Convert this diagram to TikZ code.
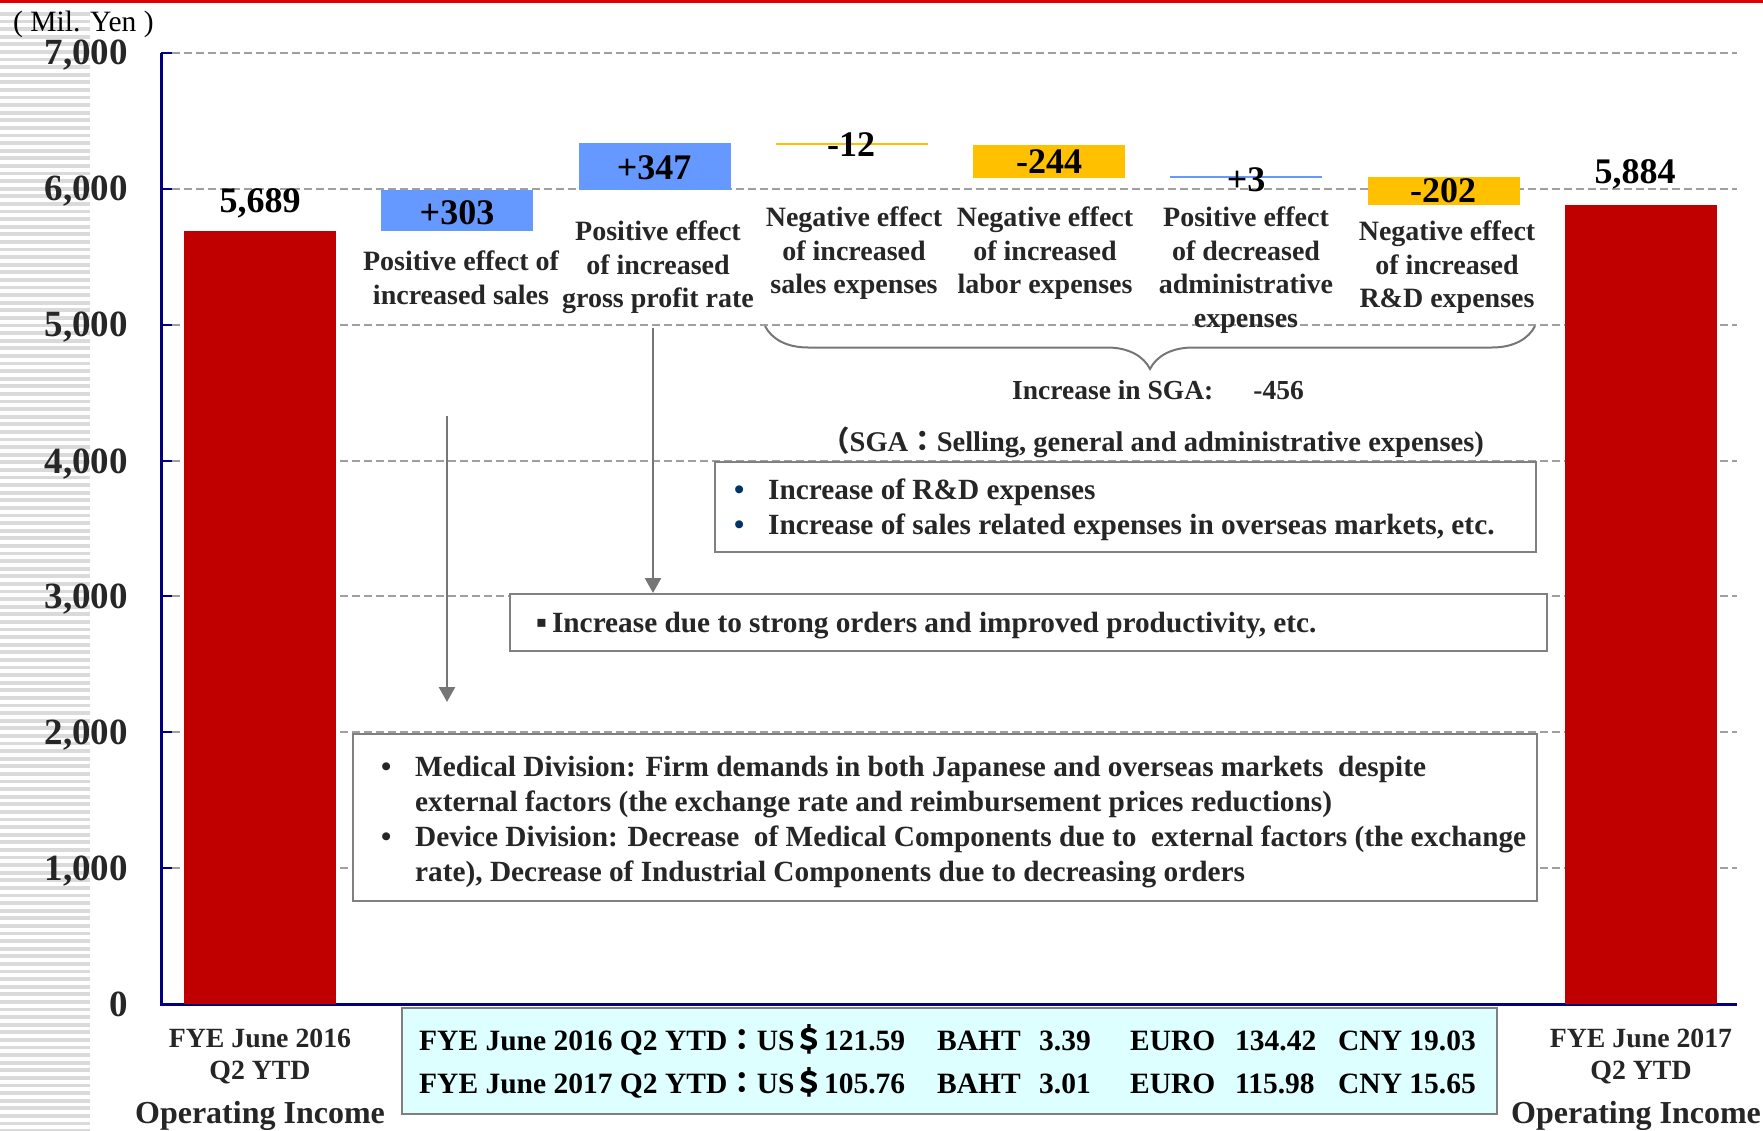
\documentclass[tikz,border=0pt]{standalone}
\usepackage{fontspec}
\setmainfont{Liberation Serif}
\newfontfamily\cjk{Noto Sans CJK JP}
\newfontfamily\dejavu{DejaVu Sans}
\usetikzlibrary{arrows.meta,decorations.pathreplacing}
\definecolor{barred}{RGB}{192,0,0}
\definecolor{barblue}{RGB}{102,153,255}
\definecolor{bargold}{RGB}{255,192,0}
\definecolor{axisnavy}{RGB}{0,0,128}
\definecolor{gridgray}{RGB}{160,160,160}
\definecolor{boxgray}{RGB}{128,128,128}
\definecolor{arrowgray}{RGB}{118,118,118}
\definecolor{stripegray}{RGB}{218,218,218}
\definecolor{topred}{RGB}{224,0,0}
\definecolor{txt}{RGB}{38,38,38}
\definecolor{bulletnavy}{RGB}{0,51,102}
\definecolor{ratefill}{RGB}{221,255,255}
\newcommand\setfs[2]{\fontsize{#1pt}{#2pt}\selectfont}
\begin{document}
\begin{tikzpicture}[x=1pt,y=-1pt,
  bar/.style={inner sep=0pt, outer sep=0pt, minimum width=152pt, anchor=north west},
  valuelabel/.style={font=\bfseries\setfs{36}{40}, text=black, inner sep=0pt, anchor=base},
  catlabel/.style={font=\bfseries\setfs{28}{33.5}, text=txt, align=center, inner sep=0pt, anchor=north},
  bottomlabel/.style={font=\bfseries\setfs{27.8}{32}, text=txt, align=center, inner sep=0pt, anchor=north},
  oplabel/.style={font=\bfseries\setfs{32}{36}, text=txt, inner sep=0pt, anchor=base},
  axislabel/.style={font=\bfseries\setfs{37}{40}, text=txt, inner sep=0pt, anchor=base east},
  gridrule/.style={gridgray, line width=2pt, dash pattern=on 8pt off 4pt},
  infobox/.style={draw=boxgray, line width=2pt, fill=white, inner sep=0pt, anchor=north west},
  boxtext/.style={font=\bfseries\setfs{29.3}{35}, text=txt, align=left, inner sep=0pt},
  ratetext/.style={font=\bfseries\setfs{29.5}{34}, text=black, inner sep=0pt, anchor=base west},
  pointer/.style={arrowgray, line width=2.5pt, -{Triangle[width=16pt,length=15pt]}},
  bracestyle/.style={arrowgray, line width=2pt, decorate, decoration={brace, mirror, amplitude=43pt}},
]
\useasboundingbox (0,0) rectangle (1763,1131);

% left stripes and top rule
\foreach \k in {0,...,147} \fill[stripegray] (0,{12+7.6*\k}) rectangle (90,{15.8+7.6*\k});
\fill[topred] (0,0) rectangle (1763,3);

% grid
\foreach \y in {53,189,325,461,596,732,868} \draw[gridrule] (172,\y) -- (1737,\y);

% axes
\draw[axisnavy, line width=3pt] (161,53) -- (161,1004) -- (1737,1004);
\foreach \y in {53,189,325,461,596,732,868} \draw[axisnavy, line width=2.5pt] (161,\y) -- (172,\y);

% axis labels
\node[font=\setfs{29.5}{34}, text=black, inner sep=0pt, anchor=base west] (unit) at (13,32) {( Mil. Yen )};
\foreach \y/\t in {53/{7,000},189/{6,000},325/{5,000},461/{4,000},596/{3,000},732/{2,000},868/{1,000},1004/{0}}
  \node[axislabel] (ylab\y) at (128,\y+12) {\t};

% bars
\node[bar, fill=barred,  minimum height=772.6pt] (b0) at (184,231.4) {};
\node[bar, fill=barblue, minimum height=41.1pt]  (b1) at (381,190.3) {};
\node[bar, fill=barblue, minimum height=47.1pt]  (b2) at (579,143.2) {};
\node[bar, fill=bargold, minimum height=2pt]     (b3) at (776,143.2) {};
\node[bar, fill=bargold, minimum height=33.1pt]  (b4) at (973,144.8) {};
\node[bar, fill=barblue, minimum height=1.5pt]   (b5) at (1170,176.5) {};
\node[bar, fill=bargold, minimum height=27.5pt]  (b6) at (1368,177.5) {};
\node[bar, fill=barred,  minimum height=799pt]   (b7) at (1565,205) {};

% value labels
\node[valuelabel] (v0) at (260,213) {5,689};
\node[valuelabel] (v1) at (457,225) {+303};
\node[valuelabel] (v2) at (654,180) {+347};
\node[valuelabel] (v3) at (851,157) {-12};
\node[valuelabel] (v4) at (1049,174) {-244};
\node[valuelabel] (v5) at (1246,192) {+3};
\node[valuelabel] (v6) at (1443,203) {-202};
\node[valuelabel] (v7) at (1635,184) {5,884};

% category labels
\node[catlabel] (c1) at (461,251) {Positive effect of\\increased sales};
\node[catlabel] (c2) at (658,221) {Positive effect\\of increased\\gross profit rate};
\node[catlabel] (c3) at (854,207) {Negative effect\\of increased\\sales expenses};
\node[catlabel] (c4) at (1045,207) {Negative effect\\of increased\\labor expenses};
\node[catlabel] (c5) at (1246,207) {Positive effect\\of decreased\\administrative\\expenses};
\node[catlabel] (c6) at (1447,221) {Negative effect\\of increased\\R\&D expenses};

% brace and SGA texts
\coordinate (brL) at (765,326);
\coordinate (brR) at (1535,326);
\draw[bracestyle] (brL) -- (brR);
\node[font=\bfseries\setfs{27.5}{32}, text=txt, inner sep=0pt, anchor=base west] (sga) at (1012,399) {Increase in SGA:\hspace{40pt}-456};
\node[font=\bfseries\setfs{28.5}{32}, text=txt, inner sep=0pt, anchor=base east] (sganote) at (1484,451)
  {{\cjk （}SGA{\cjk ：}Selling, general and administrative expenses)};

% box 1
\node[infobox, minimum width=821pt, minimum height=90pt] (box1) at (714,461) {};
\node[boxtext, anchor=north west] (box1txt) at (734,478.5)
  {\makebox[34pt][l]{\textcolor{bulletnavy}{•}}Increase of R\&D expenses\\
   \makebox[34pt][l]{\textcolor{bulletnavy}{•}}Increase of sales related expenses in overseas markets, etc.};

% box 2
\node[infobox, minimum width=1037pt, minimum height=57pt] (box2) at (509,593) {};
\node[boxtext, anchor=base west] (box2txt) at (536,632)
  {\raisebox{5pt}{\dejavu\setfs{16}{16}▪}\hspace{5pt}Increase due to strong orders and improved productivity, etc.};

% box 3
\node[infobox, minimum width=1184pt, minimum height=167pt] (box3) at (352,733) {};
\node[boxtext, anchor=north west] (box3txt) at (381,755.5)
  {\makebox[34pt][l]{•}Medical Division: Firm demands in both Japanese and overseas markets\ \ despite\\
   \hspace*{34pt}external factors (the exchange rate and reimbursement prices reductions)\\
   \makebox[34pt][l]{•}Device Division: Decrease\ \ of Medical Components due to\ \ external factors (the exchange\\
   \hspace*{34pt}rate), Decrease of Industrial Components due to decreasing orders};

% arrows
\coordinate (a1s) at (653,328);
\draw[pointer] (a1s) -- (a1s |- box2.north);
\coordinate (a2s) at (447,416);
\coordinate (a2e) at (447,702);
\draw[pointer] (a2s) -- (a2e);

% exchange rate box
\node[infobox, fill=ratefill, minimum width=1095pt, minimum height=106pt] (box4) at (401,1007) {};
\node[ratetext] (rate16) at (419,1050)
  {\makebox[518pt][l]{FYE June 2016 Q2 YTD{\cjk ：}US{\cjk ＄}121.59}\makebox[102pt][l]{BAHT}\makebox[91pt][l]{3.39}\makebox[105pt][l]{EURO}\makebox[103pt][l]{134.42}CNY 19.03};
\node[ratetext] (rate17) at (419,1093)
  {\makebox[518pt][l]{FYE June 2017 Q2 YTD{\cjk ：}US{\cjk ＄}105.76}\makebox[102pt][l]{BAHT}\makebox[91pt][l]{3.01}\makebox[105pt][l]{EURO}\makebox[103pt][l]{115.98}CNY 15.65};

% bottom labels
\node[bottomlabel] (x0) at (260,1029) {FYE June 2016\\Q2 YTD};
\node[oplabel] (op0) at (260,1123) {Operating Income};
\node[bottomlabel] (x7) at (1641,1029) {FYE June 2017\\Q2 YTD};
\node[oplabel] (op7) at (1636,1123) {Operating Income};
\end{tikzpicture}
\end{document}
